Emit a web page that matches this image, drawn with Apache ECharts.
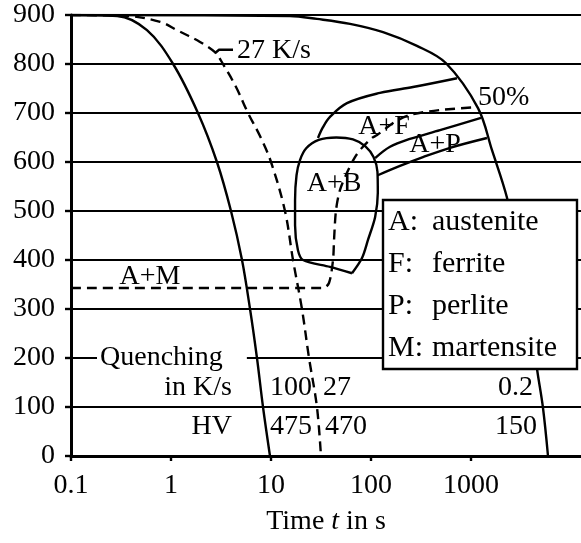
<!DOCTYPE html>
<html><head><meta charset="utf-8">
<script src="https://cdn.jsdelivr.net/npm/echarts@6/dist/echarts.min.js"></script>
<style>html,body{margin:0;padding:0;background:#fff}#c{width:581px;height:543px}</style>
</head><body><div id="c"></div>
<script>
// ---- axis ticks ----
const xTickValues = [0.1, 1, 10, 100, 1000];
const xTickLabels = ['0.1', '1', '10', '100', '1000'];
const yMin = 0, yMax = 900, yStep = 100;
const xMin = 0.1, xMax = 12589;

// ---- cooling curves [time s, temperature] ----
const cool100 = [[0.1,900],[0.29,898],[0.575,869],[1.05,800],[1.86,700],[2.88,600],[3.98,500],[5.13,400],[6.17,300],[7.24,200],[8.32,100],[9.77,0]];
const cool27 = [[0.1,900],[0.36,898],[0.78,886],[1.15,869],[1.95,845],[2.75,824],[3.31,800],[4.47,753],[5.89,700],[7.76,653],[10.0,600],[13.8,500],[16.6,400],[20.4,300],[24.0,200],[28.8,100],[31.6,0]];
const cool02 = [[0.1,900],[15.5,898],[28.8,892],[61.7,882],[132,865],[288,837],[560,802],[1175,710],[1622,624],[2291,527],[3090,400],[3890,288],[4570,178],[5248,98],[5888,0]];

// ---- transformation boundaries ----
const ferriteStart = [[29.5,649],[33.1,671],[38.9,692],[57.5,720],[123,741],[263,753],[724,771]];
const perliteUpper = [[110,608],[155,631],[245,647],[490,665],[1259,690]];
const perliteLower = [[117,573],[195,592],[331,610],[617,629],[1445,649]];
const bainite = [[64.6,373],[81.3,404],[93.3,441],[110,488],[117,537],[116,580],[106,610],[88,632],[66,646],[45,650],[30,645],[22.5,628],[19.5,604],[18.0,573],[17.4,522],[17.4,471],[18.6,420],[20.9,400],[38.9,386],[64.6,373]];
const fiftyPct = [[0.1,343],[33.1,343],[38.0,353],[41.7,400],[42.7,441],[44.7,502],[49.0,543],[57.5,578],[69.2,610],[81.3,629],[102,649],[115,655],[174,682],[245,696],[490,706],[1148,712]];
const leader27 = [[2.75,822],[3.02,829],[4.17,829]];

// ---- text annotations ----
const regionNames = ['A+F', 'A+P', 'A+B', 'A+M'];
const regionPos = [[135,673],[437,635],[42.7,555],[0.617,367]];
const leftNames = ['27 K/s', '50%', '100', '475', '27', '470'];
const leftPos = [[4.57,827],[1175,731],[9.77,139],[9.77,59],[33.1,139],[34.7,59]];
const rightNames = ['in K/s', 'HV', '0.2', '150'];
const rightPos = [[4.07,139],[4.07,59],[4169,139],[4571,59]];
const quenchName = ['Quenching'];
const quenchPos = [[0.182,200]];

const legendKeys = ['A:', 'F:', 'P:', 'M:'];
const legendNames = ['austenite', 'ferrite', 'perlite', 'martensite'];

const F = 'Liberation Serif';
const FS = 28;

function curve(data, dashed, smooth) {
  return {type:'line', data, smooth: smooth === undefined ? 0.35 : smooth, symbol:'none', silent:true,
    lineStyle:{color:'#000', width:2.4, opacity:1, type: dashed ? [10,6] : 'solid'}, z:3};
}
function texts(pos, names, align, extra) {
  return {type:'scatter', symbolSize:0, silent:true, z:6, itemStyle:{opacity:1},
    data: pos.map((p,i)=>({value:p, name:names[i]})),
    label:Object.assign({show:true, position:'inside', align, verticalAlign:'middle', formatter:'{b}',
      color:'#000', opacity:1, fontSize:FS, fontFamily:F}, extra || {})};
}

const chart = echarts.init(document.getElementById('c'), null, {renderer:'canvas'});
const legendGraphics = [{type:'rect', shape:{x:383, y:200, width:194, height:169}, style:{fill:'#fff', stroke:'#000', lineWidth:2.4}, z:100}];
legendKeys.forEach((k,i)=>{
  const y = 222 + i*42;
  legendGraphics.push({type:'text', x:388, y, z:101, style:{text:k, fill:'#000', font:'30px "Liberation Serif"', textVerticalAlign:'middle'}});
  legendGraphics.push({type:'text', x:432, y, z:101, style:{text:legendNames[i], fill:'#000', font:'30px "Liberation Serif"', textVerticalAlign:'middle'}});
});

chart.setOption({
  animation:false,
  backgroundColor:'#fff',
  grid:{left:71, right:0, top:15, bottom:87, containLabel:false},
  xAxis:{type:'log', logBase:10, min:xMin, max:xMax,
    name:'{a|Time }{b|t}{a| in s}', nameLocation:'middle', nameGap:52,
    nameTextStyle:{rich:{a:{fontFamily:F, fontSize:FS, color:'#000'}, b:{fontFamily:F, fontSize:FS, fontStyle:'italic', color:'#000'}}},
    axisLine:{show:true, onZero:false, lineStyle:{color:'#000', width:3}},
    axisTick:{show:true, length:5, lineStyle:{color:'#000', width:2.4}, customValues:xTickValues},
    axisLabel:{customValues:xTickValues, margin:16, color:'#000', fontFamily:F, fontSize:FS,
      formatter:(v)=>{ const i = xTickValues.findIndex(t=>Math.abs(Math.log10(t)-Math.log10(v))<1e-6); return i>=0 ? xTickLabels[i] : ''; }},
    splitLine:{show:false}, minorTick:{show:false}},
  yAxis:{type:'value', min:yMin, max:yMax, interval:yStep,
    axisLine:{show:true, lineStyle:{color:'#000', width:3}},
    axisTick:{show:true, length:6, lineStyle:{color:'#000', width:2.4}},
    axisLabel:{margin:16, color:'#000', fontFamily:F, fontSize:FS},
    splitLine:{show:true, lineStyle:{color:'#000', width:2.2}}},
  series:[
    curve(cool100, false),
    curve(cool27, true),
    curve(cool02, false),
    curve(ferriteStart, false),
    curve(perliteUpper, false),
    curve(perliteLower, false),
    curve(bainite, false, 0.3),
    curve(fiftyPct, true, 0.3),
    curve(leader27, false, 0),
    texts(regionPos, regionNames, 'center'),
    texts(leftPos, leftNames, 'left'),
    texts(rightPos, rightNames, 'right'),
    texts(quenchPos, quenchName, 'left', {backgroundColor:'#fff', padding:[2,24,2,3]})
  ],
  graphic:legendGraphics
});
</script></body></html>
